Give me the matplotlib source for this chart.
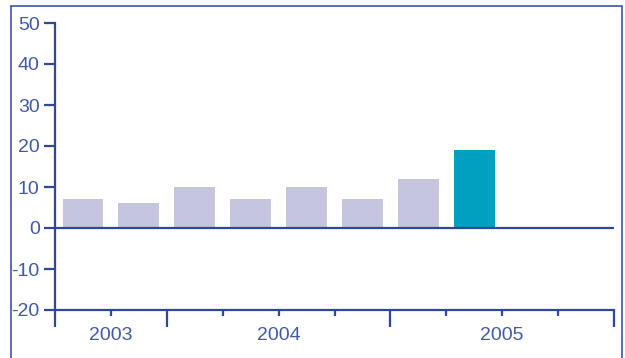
import matplotlib.pyplot as plt
from matplotlib.patches import Rectangle

# Quarterly values, 2003 Q3 .. 2005 Q2
values = [7, 6, 10, 7, 10, 7, 12, 19]
highlight = 7  # index of the latest quarter
years = ["2003", "2004", "2005"]
year_centers = [1, 4, 8]
year_bounds = [0, 2, 6, 10]
n_quarters = 10

NAVY = "#2d4799"
TEXT = "#4259a5"
BAR = "#c5c5de"
TEAL = "#00a0bf"

plt.rcParams['font.family'] = ['Liberation Sans', 'DejaVu Sans']
plt.rcParams['axes.unicode_minus'] = False

fig = plt.figure(figsize=(6.25, 3.58), dpi=100)
ax = fig.add_axes([55 / 625, 1 - 310 / 358, 559 / 625, 287 / 358])

colors = [TEAL if i == highlight else BAR for i in range(len(values))]
xs = [i + 0.5 for i in range(len(values))]
ax.bar(xs, values, width=0.73, color=colors, zorder=2)

ax.axhline(0, color=NAVY, lw=1.6, zorder=3)

ax.set_xlim(0, n_quarters)
ax.set_ylim(-20, 50)
ax.set_yticks(range(-20, 51, 10))

for s in ["top", "right"]:
    ax.spines[s].set_visible(False)
for s in ["left", "bottom"]:
    ax.spines[s].set_color(NAVY)
    ax.spines[s].set_linewidth(1.6)

ax.tick_params(axis="y", length=8, width=1.6, color=NAVY, labelcolor=TEXT,
               labelsize=14, pad=3)

# quarter ticks (minor) and year boundaries (major)
ax.set_xticks(year_bounds)
ax.set_xticklabels([])
ax.set_xticks([q for q in range(n_quarters + 1) if q not in year_bounds], minor=True)
ax.tick_params(axis="x", which="major", length=12, width=1.6, color=NAVY)
ax.tick_params(axis="x", which="minor", length=4.5, width=1.6, color=NAVY)

for c, y in zip(year_centers, years):
    ax.text(c, -24.2, y, ha="center", va="top", color=TEXT, fontsize=14,
            clip_on=False)

# frame around the whole figure
fig.patches.append(Rectangle((11 / 625, -0.05), 611 / 625, 1.05 - 6 / 358,
                             transform=fig.transFigure, fill=False,
                             edgecolor="#3a55a5", linewidth=1.2))

fig.savefig("out.png", dpi=100)
